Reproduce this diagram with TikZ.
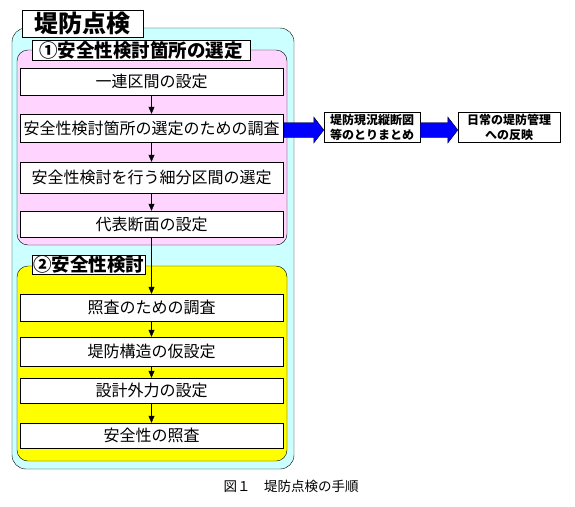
\documentclass[tikz,border=0pt]{standalone}
\usepackage{fontspec}
\setmainfont{Noto Sans CJK JP}
\usepackage{tikz}
\usetikzlibrary{arrows.meta, calc}

\definecolor{cyanbg}{HTML}{CCFFFF}
\definecolor{pinkbg}{HTML}{FFD5FF}
\definecolor{yellowbg}{HTML}{FFFF00}
\definecolor{blockblue}{HTML}{0000FF}

\tikzset{
    stepbox/.style={draw=black, fill=white, minimum width=263pt, minimum height=28pt,
        inner sep=0pt, font=\fontsize{16}{16}\selectfont},
    tagbox/.style={draw=black, fill=white, inner xsep=1pt, inner ysep=0pt,
        font=\bfseries\fontsize{18.5}{18.5}\selectfont},
    sidebox/.style={draw=black, fill=white, minimum height=30pt, inner sep=0pt,
        align=center, font=\bfseries\fontsize{12}{15}\selectfont},
    flow/.style={->, thin},
    bigflow/.style={fill=blockblue, draw=black, thin}
}

% block arrow from #1 to #2 (tip at #2)
\newcommand{\blockarrow}[2]{%
    \draw[bigflow] ($(#1)+(0,-7.5)$) -- ($(#2)+(-10,-7.5)$) -- ($(#2)+(-10,-13)$)
        -- (#2) -- ($(#2)+(-10,13)$) -- ($(#2)+(-10,7.5)$) -- ($(#1)+(0,7.5)$) -- cycle;}

\begin{document}
\begin{tikzpicture}[
        x=1pt, y=-1pt,
        >={Triangle[length=7pt, width=6pt]}
    ]

        % === DEFINITIONS & COORDINATES ===
        \def\colX{151.5}   % centre line of the step boxes
        \useasboundingbox (0,0) rectangle (575,506);

        % === 1. BACKGROUND PANELS ===
        \draw[fill=cyanbg, rounded corners=14pt] (12,28) rectangle (294,469);
        \draw[fill=pinkbg, rounded corners=11pt] (17,50) rectangle (287,245);
        \draw[fill=yellowbg, rounded corners=11pt] (17,266) rectangle (287,461);

        % === 2. TITLES ===
        \node[draw=black, fill=white, minimum width=121pt, minimum height=27pt, inner sep=0pt,
            font=\bfseries\fontsize{24}{24}\selectfont] (title) at (82.5,23.5) {堤防点検};
        \node[tagbox, minimum width=218pt, minimum height=20pt] (tagA) at (141,50) {①安全性検討箇所の選定};
        \node[tagbox, minimum width=113pt, minimum height=19pt] (tagB) at (88.5,264.5) {②安全性検討};

        % === 3. STEP BOXES ===
        \node[stepbox, minimum height=27pt] (s1) at (\colX,81.5) {一連区間の設定};
        \node[stepbox] (s2) at (\colX,128) {安全性検討箇所の選定のための調査};
        \node[stepbox, minimum height=31pt] (s3) at (\colX,177.5) {安全性検討を行う細分区間の選定};
        \node[stepbox, minimum height=26pt] (s4) at (\colX,224) {代表断面の設定};

        \node[stepbox, minimum height=27pt] (s5) at (\colX,307.5) {照査のための調査};
        \node[stepbox, minimum height=29pt] (s6) at (\colX,351.5) {堤防構造の仮設定};
        \node[stepbox, minimum height=25pt] (s7) at (\colX,390.5) {設計外力の設定};
        \node[stepbox, minimum height=25pt] (s8) at (\colX,435.5) {安全性の照査};

        \foreach \a/\b in {s1/s2, s2/s3, s3/s4, s4/s5, s5/s6, s6/s7, s7/s8}
            \draw[flow] (\a) -- (\b);

        % === 4. SIDE BRANCH ===
        \node[sidebox, minimum width=96pt] (r1) at (372,127) {堤防現況縦断図\\等のとりまとめ};
        \node[sidebox, minimum width=102pt] (r2) at (509,127) {日常の堤防管理\\への反映};

        \coordinate (a1) at (284,130);
        \coordinate (a1end) at (a1 -| r1.west);
        \coordinate (a2) at (a1 -| r1.east);
        \coordinate (a2end) at (a1 -| r2.west);
        \blockarrow{a1}{a1end}
        \blockarrow{a2}{a2end}

        % === 5. CAPTION ===
        \node[font=\fontsize{13.5}{14}\selectfont] (cap) at (291,486) {図１　堤防点検の手順};

    \end{tikzpicture}
\end{document}
